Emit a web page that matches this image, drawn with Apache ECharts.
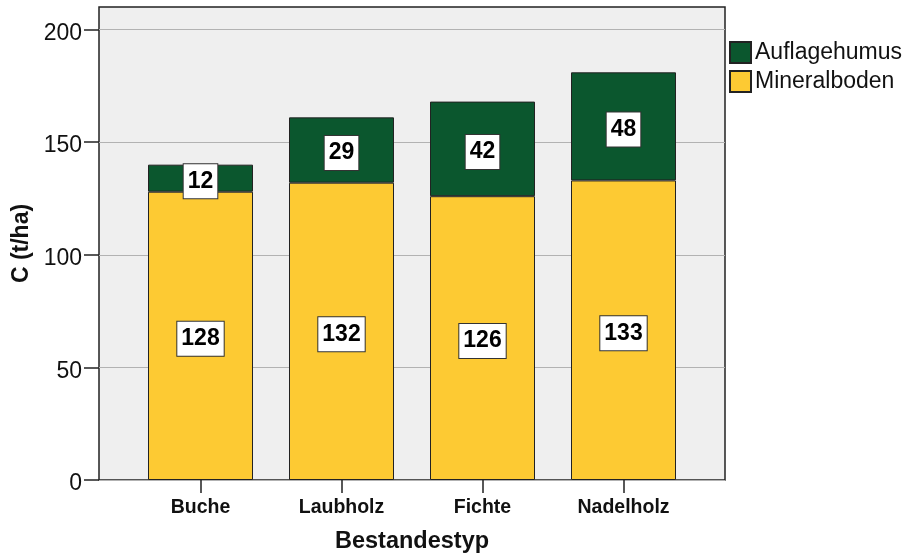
<!DOCTYPE html>
<html>
<head>
<meta charset="utf-8">
<script src="https://cdn.jsdelivr.net/npm/echarts@6/dist/echarts.min.js"></script>
<style>
html,body{margin:0;padding:0;background:#fff;}
#chart{width:910px;height:554px;}
</style>
</head>
<body>
<div id="chart"></div>
<script>
const categories = ['Buche', 'Laubholz', 'Fichte', 'Nadelholz'];
const mineralboden = [128, 132, 126, 133];
const auflagehumus = [12, 29, 42, 48];
const yTicks = [0, 50, 100, 150, 200];
const seriesNames = ['Mineralboden', 'Auflagehumus'];
const legendOrder = ['Auflagehumus', 'Mineralboden'];

const FONT = '"Liberation Sans", Arial, sans-serif';
const dark = '#222222';

const chart = echarts.init(document.getElementById('chart'), null, {renderer: 'canvas'});

const labelStyle = {
  show: true,
  position: 'inside',
  offset: [0, 3],
  fontFamily: FONT,
  fontWeight: 'bold',
  fontSize: 23,
  lineHeight: 23,
  color: '#000',
  backgroundColor: '#ffffff',
  borderColor: '#333333',
  borderWidth: 1,
  padding: [6, 4, 5, 4]
};

chart.setOption({
  animation: false,
  textStyle: {fontFamily: FONT},
  grid: [
    {left: 99, top: 7, width: 626, height: 473, show: true, backgroundColor: '#efefef', borderColor: dark, borderWidth: 1.5, containLabel: false, outerBoundsMode: 'none'},
    {left: 130, top: 7, width: 564, height: 473, containLabel: false, outerBoundsMode: 'none'}
  ],
  legend: {
    orient: 'vertical',
    left: 729,
    top: 41,
    padding: 0,
    itemWidth: 21,
    itemHeight: 21,
    itemGap: 6,
    data: legendOrder,
    textStyle: {fontFamily: FONT, fontSize: 23, color: '#111', padding: [0, 0, 0, -1]},
    icon: 'rect'
  },
  xAxis: [
    {
      type: 'category', gridIndex: 0, data: [''],
      axisLine: {show: false}, axisTick: {show: false}, axisLabel: {show: false},
      name: 'Bestandestyp', nameLocation: 'middle', nameGap: 52,
      nameTextStyle: {fontFamily: FONT, fontWeight: 'bold', fontSize: 23.5, lineHeight: 20, color: '#111'}
    },
    {
      type: 'category', gridIndex: 1, data: categories,
      axisLine: {show: false},
      axisTick: {show: true, alignWithLabel: true, length: 13, lineStyle: {color: dark, width: 1.5}},
      axisLabel: {fontFamily: FONT, fontWeight: 'bold', fontSize: 19.5, color: '#111', margin: 18}
    }
  ],
  yAxis: [
    {
      type: 'value', gridIndex: 0, min: 0, max: 210, interval: 50,
      axisLine: {show: false},
      axisTick: {show: true, length: 15, lineStyle: {color: dark, width: 1.5}, customValues: yTicks},
      axisLabel: {fontFamily: FONT, fontSize: 23, color: '#111', margin: 17, customValues: yTicks, verticalAlign: 'top', lineHeight: 8},
      splitLine: {show: true, lineStyle: {color: '#b2b2b2', width: 1}},
      name: 'C (t/ha)', nameLocation: 'middle', nameGap: 66, nameRotate: 90,
      nameTextStyle: {fontFamily: FONT, fontWeight: 'bold', fontSize: 23, color: '#111'}
    },
    {
      type: 'value', gridIndex: 1, min: 0, max: 210, show: false
    }
  ],
  series: [
    {
      name: seriesNames[0], type: 'bar', stack: 'c', xAxisIndex: 1, yAxisIndex: 1,
      barWidth: 105,
      data: mineralboden,
      itemStyle: {color: '#fdca33', borderColor: dark, borderWidth: 1},
      label: labelStyle
    },
    {
      name: seriesNames[1], type: 'bar', stack: 'c', xAxisIndex: 1, yAxisIndex: 1,
      barWidth: 105,
      data: auflagehumus,
      itemStyle: {color: '#0b572e', borderColor: dark, borderWidth: 1},
      label: labelStyle
    }
  ]
});
</script>
</body>
</html>
